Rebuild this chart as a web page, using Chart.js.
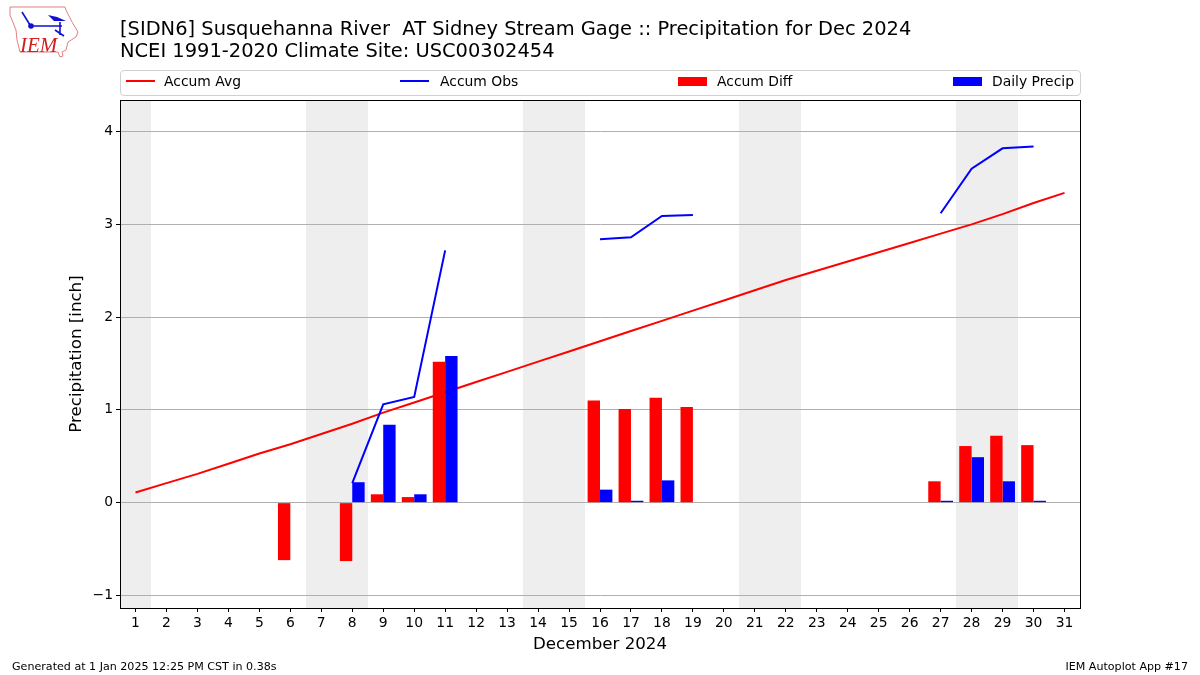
<!DOCTYPE html>
<html>
<head>
<meta charset="utf-8">
<title>Precipitation for Dec 2024</title>
<script src="https://cdn.jsdelivr.net/npm/chart.js@4/dist/chart.umd.min.js"></script>
<style>
  html, body { margin: 0; padding: 0; background: #fff; }
  body { width: 1200px; height: 675px; overflow: hidden; position: relative; font-family: "DejaVu Sans", sans-serif; color: #000; }
  #chart { position: absolute; left: 0; top: 0; }
  #title { position: absolute; left: 120px; top: 18px; font-size: 19.45px; line-height: 22px; white-space: pre; }
  #logo { position: absolute; left: 8px; top: 5px; }
  #legend { position: absolute; left: 120px; top: 70px; width: 961px; height: 26px; box-sizing: border-box; border: 1px solid #d0d0d0; border-radius: 4px; font-size: 13.9px; }
  .item { position: absolute; top: -1px; height: 23px; line-height: 22px; white-space: pre; }
  .swatch { position: absolute; left: 0; width: 29px; }
  .swatch.line { top: 10px; height: 2px; }
  .swatch.bar { top: 7px; height: 9px; }
  .item span { position: absolute; left: 38px; }
  .foot { position: absolute; top: 660px; font-size: 11.1px; white-space: pre; }
</style>
</head>
<body>
<canvas id="chart" width="1200" height="675"></canvas>

<svg id="logo" width="72" height="54" viewBox="0 0 72 54">
  <path d="M2 2 L57 2 L58 5 L64 17 L70 27 L68 32 L60 37 L58 45 L54 47 L55 51 L52 52 L50 47 L12 47 L9 35 L8 25 L2 10 Z" fill="none" stroke="#e08080" stroke-width="1"/>
  <path d="M40 10 L49 12 L58 16 L46 16 Z" fill="#1010d0"/>
  <path d="M23 21 L54 21 M14 7 L22 20 M52 17 L52 30 M47 25 L56 31" fill="none" stroke="#1010d0" stroke-width="1.6"/>
  <circle cx="23" cy="21" r="2.8" fill="#1010d0"/>
  <text x="12" y="47" font-family="Liberation Serif" font-style="italic" font-size="21" fill="#d02020">IEM</text>
</svg>

<div id="title">[SIDN6] Susquehanna River  AT Sidney Stream Gage :: Precipitation for Dec 2024
NCEI 1991-2020 Climate Site: USC00302454</div>

<div id="legend">
  <div class="item" style="left:5px"><div class="swatch line" style="background:#f00"></div><span>Accum Avg</span></div>
  <div class="item" style="left:279px"><div class="swatch line" style="background:#00f"></div><span style="left:40px">Accum Obs</span></div>
  <div class="item" style="left:557px"><div class="swatch bar" style="background:#f00"></div><span style="left:39px">Accum Diff</span></div>
  <div class="item" style="left:832px"><div class="swatch bar" style="background:#00f"></div><span style="left:39px">Daily Precip</span></div>
</div>

<div class="foot" style="left:12px">Generated at 1 Jan 2025 12:25 PM CST in 0.38s</div>
<div class="foot" style="right:12px">IEM Autoplot App #17</div>

<script>
var days = ["1","2","3","4","5","6","7","8","9","10","11","12","13","14","15","16",
  "17","18","19","20","21","22","23","24","25","26","27","28","29","30","31"];

var accumAvg = [0.11, 0.21, 0.31, 0.42, 0.53, 0.63, 0.74, 0.85, 0.97, 1.08, 1.19, 1.30, 1.41, 1.52, 1.63, 1.74,
  1.85, 1.96, 2.07, 2.18, 2.29, 2.40, 2.50, 2.60, 2.70, 2.80, 2.90, 3.00, 3.11, 3.23, 3.34];

var accumObs = [null, null, null, null, null, null, null, 0.21, 1.06, 1.14, 2.72, null, null, null, null, 2.84,
  2.86, 3.09, 3.10, null, null, null, null, null, null, null, 3.12, 3.60, 3.82, 3.84, null];

var accumDiff = [null, null, null, null, null, -0.62, null, -0.63, 0.09, 0.06, 1.52, null, null, null, null, 1.10,
  1.01, 1.13, 1.03, null, null, null, null, null, null, null, 0.23, 0.61, 0.72, 0.62, null];

var dailyPrecip = [null, null, null, null, null, null, null, 0.22, 0.84, 0.09, 1.58, null, null, null, null, 0.14,
  0.02, 0.24, null, null, null, null, null, null, null, null, 0.02, 0.49, 0.23, 0.02, null];

// weekend days get a grey band
var weekendDays = ["1", "7", "8", "14", "15", "21", "22", "28", "29"];

var tickFont = { family: "DejaVu Sans", size: 13.9 };

var weekendBands = {
  id: 'weekendBands',
  beforeDraw: function (chart) {
    var x = chart.scales.x, area = chart.chartArea, c = chart.ctx;
    var step = x.getPixelForValue(1) - x.getPixelForValue(0);
    c.save();
    c.fillStyle = '#eeeeee';
    weekendDays.forEach(function (d) {
      var px = x.getPixelForValue(days.indexOf(d));
      var left = Math.round(px - step / 2), right = Math.round(px + step / 2);
      c.fillRect(left, area.top, right - left, area.bottom - area.top);
    });
    c.restore();
  }
};

var frame = {
  id: 'frame',
  afterDraw: function (chart) {
    var a = chart.chartArea, c = chart.ctx;
    c.save();
    c.strokeStyle = '#000';
    c.lineWidth = 1;
    c.strokeRect(a.left + 0.5, a.top + 0.5, a.right - a.left, a.bottom - a.top);
    c.restore();
  }
};

var ctx = document.getElementById("chart").getContext('2d');
var myChart = new Chart(ctx, {
  type: 'bar',
  data: {
    labels: days,
    datasets: [
      { type: 'line', label: "Accum Avg", data: accumAvg, borderColor: '#ff0000', borderWidth: 2, pointRadius: 0, tension: 0, order: 3 },
      { type: 'line', label: "Accum Obs", data: accumObs, borderColor: '#0000ff', borderWidth: 2, pointRadius: 0, tension: 0, spanGaps: false, order: 2 },
      { label: "Accum Diff", data: accumDiff, backgroundColor: '#ff0000', categoryPercentage: 0.8, barPercentage: 1, order: 1 },
      { label: "Daily Precip", data: dailyPrecip, backgroundColor: '#0000ff', categoryPercentage: 0.8, barPercentage: 1, order: 1 }
    ]
  },
  options: {
    responsive: false,
    animation: false,
    layout: { padding: { left: 0, top: 100, right: 120, bottom: 0 } },
    plugins: { legend: { display: false }, title: { display: false }, tooltip: { enabled: false } },
    scales: {
      x: {
        offset: true,
        afterFit: function (s) { s.height = 67; },
        grid: { drawOnChartArea: false, tickColor: '#000', tickLength: 4, offset: false },
        border: { color: '#000' },
        ticks: { color: '#000', font: tickFont, autoSkip: false, maxRotation: 0, padding: 3 },
        title: { display: true, text: "December 2024", color: '#000', font: { family: "DejaVu Sans", size: 16.67 }, padding: { top: 0, bottom: 20 } }
      },
      y: {
        min: -1.136,
        max: 4.341,
        afterFit: function (s) { s.width = 120; },
        grid: { color: '#b0b0b0', lineWidth: 1, tickColor: '#000', tickLength: 4 },
        border: { color: '#000' },
        ticks: {
          color: '#000', font: tickFont, stepSize: 1, includeBounds: false, padding: 3,
          callback: function (v) { return v < 0 ? '\u2212' + Math.abs(v) : String(v); }
        },
        title: { display: true, text: "Precipitation [inch]", color: '#000', font: { family: "DejaVu Sans", size: 16.67 }, padding: { top: 67, bottom: 0 } }
      }
    }
  },
  plugins: [weekendBands, frame]
});
</script>
</body>
</html>
